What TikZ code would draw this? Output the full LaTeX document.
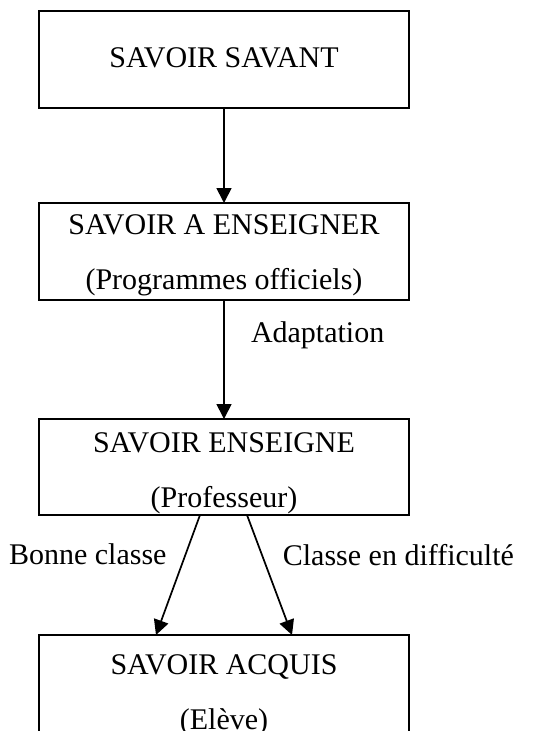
\documentclass[tikz,border=0pt]{standalone}
\usepackage{fontspec}
\setmainfont{Liberation Serif}
\usetikzlibrary{arrows.meta,positioning}

\begin{document}
\begin{tikzpicture}[
  x=1pt,
  y=-1pt,
  font=\fontsize{30}{55}\selectfont,
  knowledge box/.style={
    draw=black,
    line width=1.7pt,
    minimum width=370pt,
    minimum height=97pt,
    align=center,
    inner sep=0pt,
    outer sep=0pt
  },
  flow arrow/.style={
    -{Triangle[length=15pt,width=15pt]},
    draw=black,
    line width=1.7pt
  },
  flow label/.style={
    inner sep=0pt,
    outer sep=0pt
  }
]
\useasboundingbox (0,0) rectangle (544,731);

\node[knowledge box] (savant) at (224,59.5) {\rule[-4pt]{0pt}{4pt}SAVOIR SAVANT};
\node[knowledge box,below=95pt of savant] (a-enseigner) {
  \rule{0pt}{27pt}SAVOIR A ENSEIGNER\\
  (Programmes officiels)
};
\node[knowledge box,minimum height=96pt,below=119pt of a-enseigner] (enseigne) {
  \rule{0pt}{32pt}SAVOIR ENSEIGNE\\
  (Professeur)
};
\node[knowledge box,minimum height=120pt,below=120pt of enseigne] (acquis) {
  SAVOIR ACQUIS\\
  (Elève)
};

\draw[flow arrow] (savant.south) -- (a-enseigner.north);
\draw[flow arrow] (a-enseigner.south) -- (enseigne.north)
  node[flow label,pos=0.3,right=27pt] (adaptation) {Adaptation};
\draw[flow arrow] ([xshift=-24pt]enseigne.south) -- ([xshift=-68pt]acquis.north)
  node[flow label,pos=0.33,left=19pt] (bonne) {Bonne classe};
\draw[flow arrow] ([xshift=23pt]enseigne.south) -- ([xshift=68pt]acquis.north)
  node[flow label,pos=0.33,right=21pt] (difficulte) {Classe en difficulté};

\end{tikzpicture}
\end{document}
